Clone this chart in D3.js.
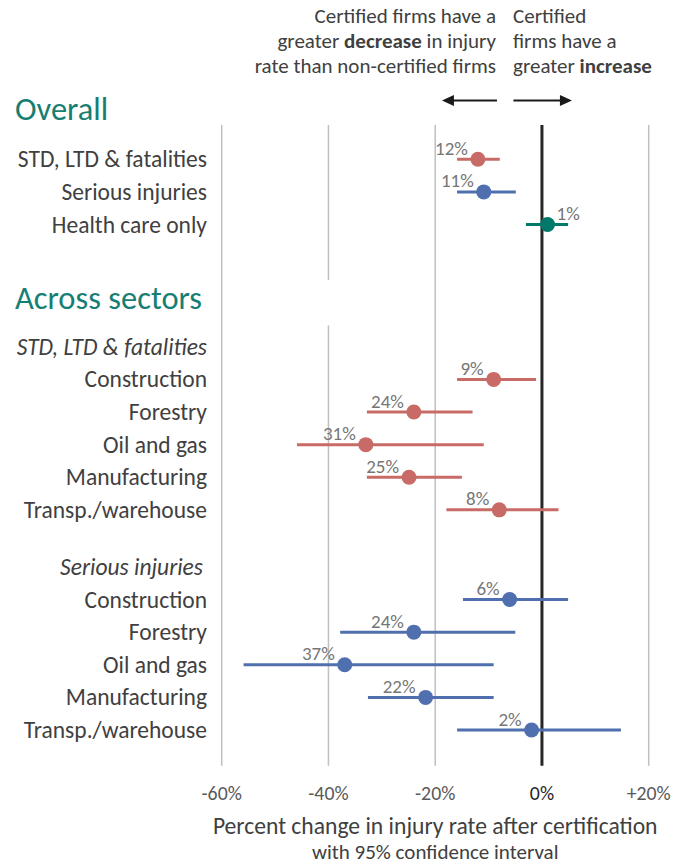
<!DOCTYPE html>
<html lang="en">
<head>
<meta charset="UTF-8">
<link rel="icon" href="data:,">
<style>
body {
  margin: 0;
  background: #fff;
}
svg text {
  font-family: Carlito, Lato, "Open Sans", sans-serif;
}
.rowlab { fill: #404040; font-size: 23.5px; }
.head { fill: #177e73; font-size: 32.5px; }
.note { fill: #404040; font-size: 21px; }
.tick { fill: #595959; font-size: 19.8px; }
.val { fill: #767676; font-size: 19px; }
</style>
<script src="https://cdn.jsdelivr.net/npm/d3@7"></script>
</head>
<body>
<svg id="chart"></svg>
<script>
const W = 685, H = 865;

// overall estimates (% change after certification)
const overallCats = ["STD, LTD & fatalities", "Serious injuries", "Health care only"];
const overallEst = [-12, -10.9, 1.05];
const overallLo = [-15.9, -15.9, -3.0];
const overallHi = [-7.9, -4.9, 4.9];
const overallLab = ["12%", "11%", "1%"];

// by sector
const sectors = ["Construction", "Forestry", "Oil and gas", "Manufacturing", "Transp./warehouse"];
const stdEst = [-9.05, -24.0, -33.0, -24.9, -8.0];
const stdLo = [-15.9, -32.8, -45.9, -32.8, -17.9];
const stdHi = [-1.1, -13.0, -10.9, -15.0, 3.1];
const stdLab = ["9%", "24%", "31%", "25%", "8%"];

const serEst = [-6.05, -24.0, -36.95, -21.8, -1.94];
const serLo = [-14.8, -37.8, -55.9, -32.6, -15.9];
const serHi = [4.9, -5.0, -9.05, -9.05, 14.8];
const serLab = ["6%", "24%", "37%", "22%", "2%"];

const xTicks = [-60, -40, -20, 0, 20];
const xTickLabels = ["-60%", "-40%", "-20%", "0%", "+20%"];

const col = { std: "#c86b66", ser: "#4f6faf", hc: "#00786a" };

const svg = d3.select("#chart").attr("width", W).attr("height", H);

const x = d3.scaleLinear().domain([-60, 20]).range([221.7, 648.7]);
// y in "row units": one row = one estimate line
const y = d3.scaleLinear().domain([0, 17.5]).range([159.3, 730]);

// build rows
const rows = [];
overallCats.forEach((c, i) => rows.push({
  cat: c, pos: i, est: overallEst[i], lo: overallLo[i], hi: overallHi[i],
  lab: overallLab[i], color: i === 0 ? col.std : i === 1 ? col.ser : col.hc
}));
sectors.forEach((c, i) => rows.push({
  cat: c, pos: 6.75 + i, est: stdEst[i], lo: stdLo[i], hi: stdHi[i], lab: stdLab[i], color: col.std
}));
sectors.forEach((c, i) => rows.push({
  cat: c, pos: 13.5 + i, est: serEst[i], lo: serLo[i], hi: serHi[i], lab: serLab[i], color: col.ser
}));

// gridlines
const gTop = y(-1.05), gBot = y(18.6);
const grid = svg.append("g");
xTicks.filter(t => t !== 0).forEach(t => {
  if (t === -40) {
    grid.append("line").attr("x1", x(t)).attr("x2", x(t)).attr("y1", gTop).attr("y2", y(3.7))
      .attr("stroke", "#bfbfbf").attr("stroke-width", 1.5);
    grid.append("line").attr("x1", x(t)).attr("x2", x(t)).attr("y1", y(5.1)).attr("y2", gBot)
      .attr("stroke", "#bfbfbf").attr("stroke-width", 1.5);
  } else {
    grid.append("line").attr("x1", x(t)).attr("x2", x(t)).attr("y1", gTop).attr("y2", gBot)
      .attr("stroke", "#bfbfbf").attr("stroke-width", 1.5);
  }
});
grid.append("line").attr("x1", x(0)).attr("x2", x(0)).attr("y1", gTop).attr("y2", gBot)
  .attr("stroke", "#262626").attr("stroke-width", 3);

// tick labels
svg.append("g").selectAll("text").data(xTicks).join("text")
  .attr("class", "tick")
  .attr("x", d => x(d)).attr("y", 800)
  .attr("text-anchor", "middle")
  .style("fill", d => d === 0 ? "#262626" : null)
  .text((d, i) => xTickLabels[i]);

svg.append("text").attr("x", x(-20)).attr("y", 834).attr("text-anchor", "middle")
  .attr("class", "rowlab").style("font-size", "23.6px")
  .text("Percent change in injury rate after certification");
svg.append("text").attr("x", x(-20)).attr("y", 859).attr("text-anchor", "middle")
  .attr("class", "rowlab").style("font-size", "21px")
  .text("with 95% confidence interval");

// headings
svg.append("text").attr("class", "head").attr("x", 15).attr("y", y(-1.19)).text("Overall");
svg.append("text").attr("class", "head").attr("x", 15).attr("y", y(4.6)).text("Across sectors");
svg.append("text").attr("class", "rowlab").attr("x", 207).attr("y", y(5.75) + 8)
  .attr("text-anchor", "end").style("font-style", "italic").text("STD, LTD & fatalities");
svg.append("text").attr("class", "rowlab").attr("x", 203).attr("y", y(12.5) + 8)
  .attr("text-anchor", "end").style("font-style", "italic").text("Serious injuries");

// row labels
svg.append("g").selectAll("text").data(rows).join("text")
  .attr("class", "rowlab")
  .attr("x", 207).attr("y", d => y(d.pos) + 8)
  .attr("text-anchor", "end")
  .text(d => d.cat);

// CI lines
svg.append("g").selectAll("line").data(rows).join("line")
  .attr("x1", d => x(d.lo)).attr("x2", d => x(d.hi))
  .attr("y1", d => y(d.pos)).attr("y2", d => y(d.pos))
  .attr("stroke", d => d.color).attr("stroke-width", 3);

// points
svg.append("g").selectAll("circle").data(rows).join("circle")
  .attr("cx", d => x(d.est)).attr("cy", d => y(d.pos)).attr("r", 7.5)
  .attr("fill", d => d.color);

// value labels
svg.append("g").selectAll("text").data(rows).join("text")
  .attr("class", "val")
  .attr("x", d => d.est > 0 ? x(d.est) + 9 : x(d.est) - 10)
  .attr("y", d => y(d.pos) - 4.5)
  .attr("text-anchor", d => d.est > 0 ? "start" : "end")
  .text(d => d.lab);

// top annotation
const left = svg.append("text").attr("class", "note").attr("text-anchor", "end");
left.append("tspan").attr("x", 496).attr("y", 23).text("Certified firms have a");
const l2 = left.append("tspan").attr("x", 496).attr("y", 48);
l2.append("tspan").text("greater ");
l2.append("tspan").style("font-weight", "bold").text("decrease");
l2.append("tspan").text(" in injury");
left.append("tspan").attr("x", 496).attr("y", 73).text("rate than non-certified firms");

const right = svg.append("text").attr("class", "note").attr("text-anchor", "start");
right.append("tspan").attr("x", 513).attr("y", 23).text("Certified");
right.append("tspan").attr("x", 513).attr("y", 48).text("firms have a");
const r3 = right.append("tspan").attr("x", 513).attr("y", 73);
r3.append("tspan").text("greater ");
r3.append("tspan").style("font-weight", "bold").text("increase");

// arrows
function arrow(x1, x2, yy) {
  const dir = Math.sign(x2 - x1);
  svg.append("line").attr("x1", x1).attr("x2", x2 - dir * 8).attr("y1", yy).attr("y2", yy)
    .attr("stroke", "#1a1a1a").attr("stroke-width", 2);
  svg.append("path")
    .attr("d", `M${x2},${yy} L${x2 - dir * 12},${yy - 5.5} L${x2 - dir * 12},${yy + 5.5} Z`)
    .attr("fill", "#1a1a1a");
}
arrow(x(0) - 45, x(0) - 100, 100.5);
arrow(x(0) - 28.5, x(0) + 30, 100.5);
</script>
</body>
</html>
